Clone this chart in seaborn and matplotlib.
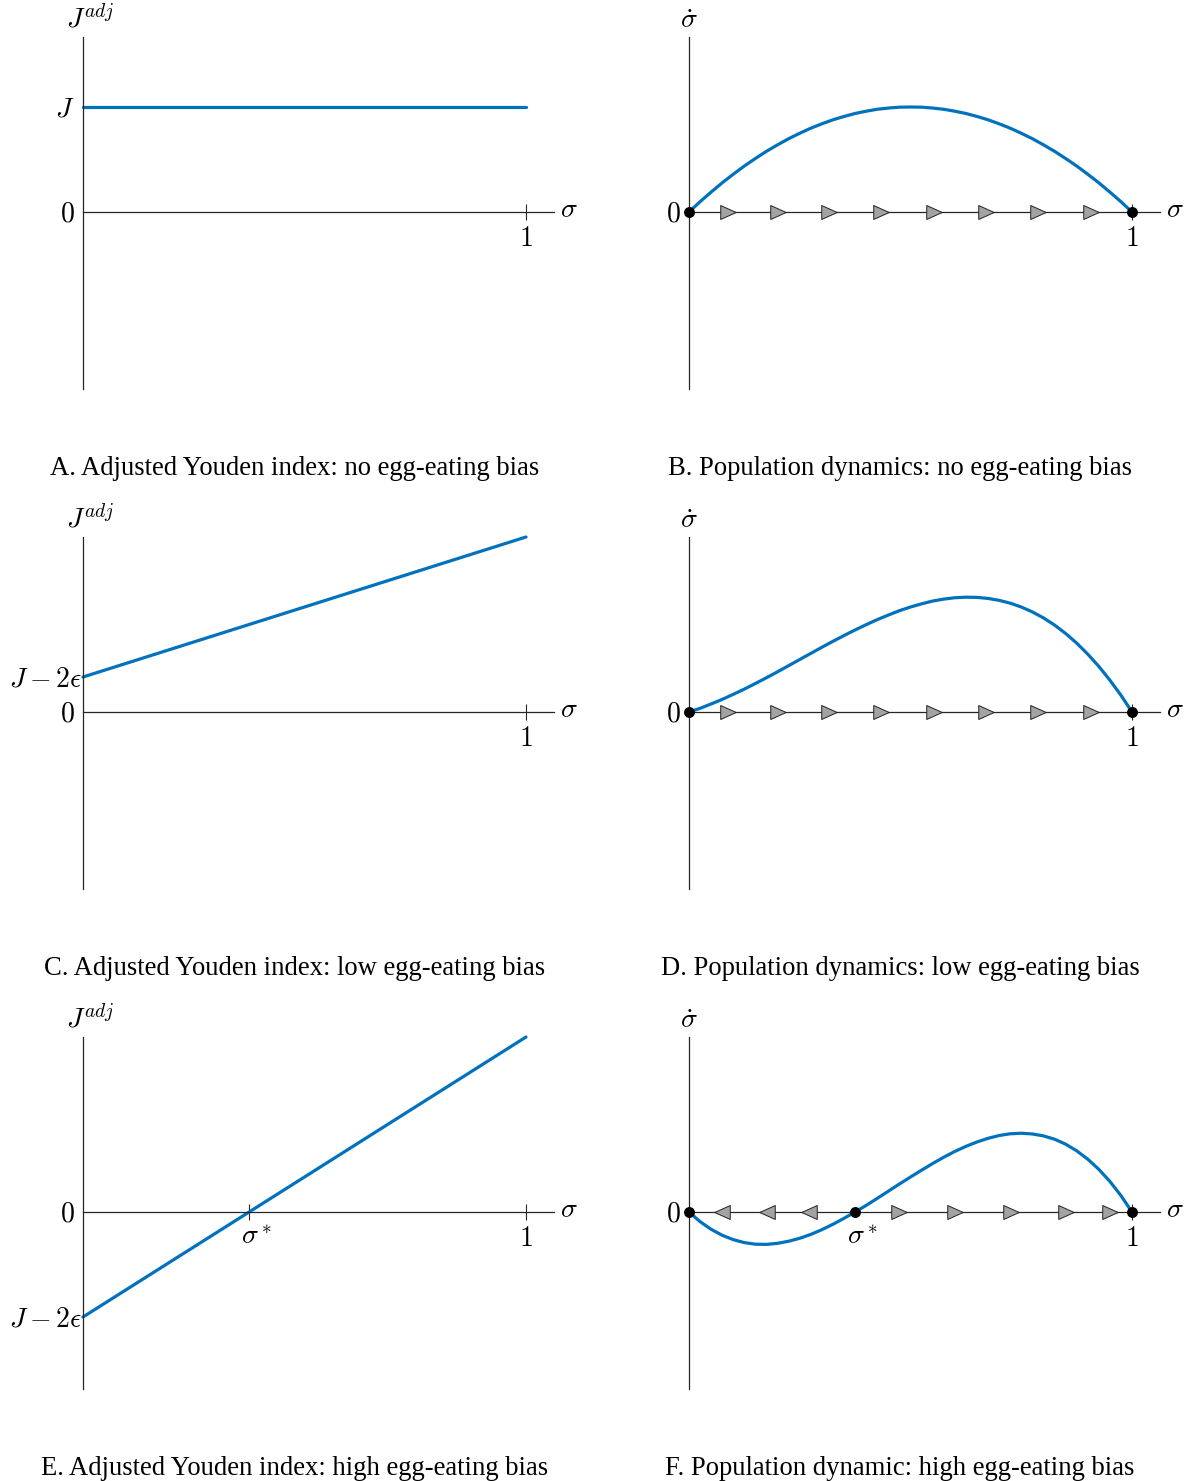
import matplotlib
matplotlib.use("Agg")
import matplotlib.pyplot as plt
from matplotlib.path import Path
import seaborn as sns

sns.set_theme(style="white")
plt.rcParams["font.family"] = ["Liberation Serif", "DejaVu Serif"]
plt.rcParams["mathtext.fontset"] = "cm"

# ---------------- data ----------------
sigma = [0.000, 0.025, 0.050, 0.075, 0.100, 0.125, 0.150, 0.175, 0.200, 0.225,
         0.250, 0.275, 0.300, 0.325, 0.350, 0.375, 0.400, 0.425, 0.450, 0.475,
         0.500, 0.525, 0.550, 0.575, 0.600, 0.625, 0.650, 0.675, 0.700, 0.725,
         0.750, 0.775, 0.800, 0.825, 0.850, 0.875, 0.900, 0.925, 0.950, 0.975,
         1.000]

# Adjusted Youden index (straight lines)
sigma_line = [0.0, 1.0]
jadj_A = [0.60, 0.60]
jadj_C = [0.20, 1.00]
jadj_E = [-0.60, 1.00]

# Population dynamics
sdot_B = [0.000, 0.059, 0.114, 0.167, 0.216, 0.263, 0.306, 0.347, 0.384, 0.419,
          0.450, 0.479, 0.504, 0.527, 0.546, 0.563, 0.576, 0.587, 0.594, 0.599,
          0.600, 0.599, 0.594, 0.587, 0.576, 0.563, 0.546, 0.527, 0.504, 0.479,
          0.450, 0.419, 0.384, 0.347, 0.306, 0.263, 0.216, 0.167, 0.114, 0.059,
          0.000]
sdot_D = [0.000, 0.021, 0.046, 0.072, 0.101, 0.131, 0.163, 0.196, 0.230, 0.265,
          0.300, 0.335, 0.370, 0.404, 0.437, 0.469, 0.499, 0.528, 0.554, 0.579,
          0.600, 0.618, 0.634, 0.645, 0.653, 0.656, 0.655, 0.649, 0.638, 0.622,
          0.600, 0.572, 0.538, 0.497, 0.449, 0.394, 0.331, 0.261, 0.182, 0.096,
          0.000]
sdot_F = [0.000, -0.055, -0.099, -0.133, -0.158, -0.175, -0.184, -0.185, -0.179, -0.167,
          -0.150, -0.128, -0.101, -0.070, -0.036, 0.000, 0.038, 0.078, 0.119, 0.160,
          0.200, 0.239, 0.277, 0.313, 0.346, 0.375, 0.400, 0.421, 0.437, 0.447,
          0.450, 0.446, 0.435, 0.416, 0.388, 0.350, 0.302, 0.244, 0.175, 0.094,
          0.000]

# flow arrows on the sigma axis
arrows_right_BD = [0.088, 0.200, 0.317, 0.434, 0.552, 0.670, 0.787, 0.907]
arrows_left_F = [0.075, 0.177, 0.270]
arrows_right_F = [0.475, 0.600, 0.727, 0.850, 0.950]

# fixed points
fixed_BD = [0.0, 1.0]
sigma_star = 0.375
fixed_F = [0.0, sigma_star, 1.0]

captions = [
    "A. Adjusted Youden index: no egg-eating bias",
    "B. Population dynamics: no egg-eating bias",
    "C. Adjusted Youden index: low egg-eating bias",
    "D. Population dynamics: low egg-eating bias",
    "E. Adjusted Youden index: high egg-eating bias",
    "F. Population dynamic: high egg-eating bias",
]

# ---------------- styling ----------------
W, H = 1185, 1481
BLUE = "#0072BD"
AXC = "#262626"
MATH_FS = 20
CAP_FS = 19.2

fig = plt.figure(figsize=(W / 100, H / 100), dpi=100)

tri_r = Path([(-1, -0.9), (1, 0), (-1, 0.9), (-1, -0.9)],
             [Path.MOVETO, Path.LINETO, Path.LINETO, Path.CLOSEPOLY])
tri_l = Path([(1, -0.9), (-1, 0), (1, 0.9), (1, -0.9)],
             [Path.MOVETO, Path.LINETO, Path.LINETO, Path.CLOSEPOLY])


def make_ax(x0_px, zero_px):
    top = zero_px - 175
    bottom = zero_px + 177
    ax = fig.add_axes([x0_px / W, (H - bottom) / H, 471 / W, (bottom - top) / H])
    ax.set_xlim(0, 471 / 443)
    ax.set_ylim(-177 / 175, 1)
    ax.set_facecolor("none")
    for s in ("top", "right"):
        ax.spines[s].set_visible(False)
    ax.spines["bottom"].set_position(("data", 0))
    for s in ("left", "bottom"):
        ax.spines[s].set_color(AXC)
        ax.spines[s].set_linewidth(0.9)
    ax.tick_params(axis="x", bottom=True, direction="inout", length=12, width=0.8,
                   color=AXC, pad=4.5, labelsize=MATH_FS, labelcolor="black")
    ax.tick_params(axis="y", left=True, length=0, pad=6,
                   labelsize=MATH_FS, labelcolor="black")
    ax.grid(False)
    return ax


def add_labels(ax, ylab, xoff):
    ax.annotate(ylab, xy=(0, 1), xycoords="axes fraction", xytext=(xoff, 3),
                textcoords="offset pixels", ha="center", va="bottom",
                fontsize=MATH_FS, color="black")
    ax.annotate(r"$\sigma$", xy=(1, 0), xycoords=("axes fraction", "data"),
                xytext=(6, 1), textcoords="offset pixels", ha="left", va="center",
                fontsize=MATH_FS, color="black")


def add_star_label(ax):
    ax.annotate(r"$\sigma^*$", xy=(sigma_star, 0), xycoords="data",
                xytext=(8, -13), textcoords="offset pixels", ha="center", va="top",
                fontsize=MATH_FS, color="black")


def add_j2e_label(ax, yval):
    ax.annotate(r"$J-2\epsilon$", xy=(0, yval), xycoords="data",
                xytext=(-1, 0), textcoords="offset pixels", ha="right",
                va="center_baseline", fontsize=MATH_FS, color="black")


def add_flow(ax, right, left, fixed):
    if left:
        sns.scatterplot(x=left, y=[0] * len(left), ax=ax, marker=tri_l, s=125,
                        color="#A3A3A3", edgecolor="#222222", linewidth=0.7,
                        zorder=3, legend=False)
    sns.scatterplot(x=right, y=[0] * len(right), ax=ax, marker=tri_r, s=125,
                    color="#A3A3A3", edgecolor="#222222", linewidth=0.7,
                    zorder=3, legend=False)
    sns.scatterplot(x=fixed, y=[0] * len(fixed), ax=ax, marker="o", s=62,
                    color="black", edgecolor="black", linewidth=0,
                    zorder=5, legend=False, clip_on=False)


rows = [212, 712, 1212]
LX, RX = 83, 689

# ---- A ----
ax = make_ax(LX, rows[0])
sns.lineplot(x=sigma_line, y=jadj_A, ax=ax, color=BLUE, linewidth=2.3,
             clip_on=False, legend=False)
ax.set_xticks([1]); ax.set_xticklabels(["$1$"])
ax.set_yticks([0, 0.6]); ax.set_yticklabels(["$0$", "$J$"])
add_labels(ax, r"$J^{adj}$", 7)

# ---- B ----
ax = make_ax(RX, rows[0])
sns.lineplot(x=sigma, y=sdot_B, ax=ax, color=BLUE, linewidth=2.3,
             clip_on=False, legend=False, zorder=4)
add_flow(ax, arrows_right_BD, None, fixed_BD)
ax.set_xticks([1]); ax.set_xticklabels(["$1$"])
ax.set_yticks([0]); ax.set_yticklabels(["$0$"])
add_labels(ax, r"$\dot{\sigma}$", 0)

# ---- C ----
ax = make_ax(LX, rows[1])
sns.lineplot(x=sigma_line, y=jadj_C, ax=ax, color=BLUE, linewidth=2.3,
             clip_on=False, legend=False)
ax.set_xticks([1]); ax.set_xticklabels(["$1$"])
ax.set_yticks([0]); ax.set_yticklabels(["$0$"])
add_j2e_label(ax, 0.2)
add_labels(ax, r"$J^{adj}$", 7)

# ---- D ----
ax = make_ax(RX, rows[1])
sns.lineplot(x=sigma, y=sdot_D, ax=ax, color=BLUE, linewidth=2.3,
             clip_on=False, legend=False, zorder=4)
add_flow(ax, arrows_right_BD, None, fixed_BD)
ax.set_xticks([1]); ax.set_xticklabels(["$1$"])
ax.set_yticks([0]); ax.set_yticklabels(["$0$"])
add_labels(ax, r"$\dot{\sigma}$", 0)

# ---- E ----
ax = make_ax(LX, rows[2])
sns.lineplot(x=sigma_line, y=jadj_E, ax=ax, color=BLUE, linewidth=2.3,
             clip_on=False, legend=False)
ax.set_xticks([sigma_star, 1]); ax.set_xticklabels(["", "$1$"])
ax.set_yticks([0]); ax.set_yticklabels(["$0$"])
add_j2e_label(ax, -0.6)
add_star_label(ax)
add_labels(ax, r"$J^{adj}$", 7)

# ---- F ----
ax = make_ax(RX, rows[2])
sns.lineplot(x=sigma, y=sdot_F, ax=ax, color=BLUE, linewidth=2.3,
             clip_on=False, legend=False, zorder=4)
add_flow(ax, arrows_right_F, arrows_left_F, fixed_F)
ax.set_xticks([1]); ax.set_xticklabels(["$1$"])
ax.set_yticks([0]); ax.set_yticklabels(["$0$"])
add_star_label(ax)
add_labels(ax, r"$\dot{\sigma}$", 0)

# ---- captions ----
cap_x = [295, 900]
for i, cap in enumerate(captions):
    r, c = divmod(i, 2)
    fig.text(cap_x[c] / W, 1 - (475 + 500 * r) / H, cap, ha="center",
             va="baseline", fontsize=CAP_FS, color="black",
             family=["Liberation Serif", "DejaVu Serif"])

fig.savefig("out.png", dpi=100)
